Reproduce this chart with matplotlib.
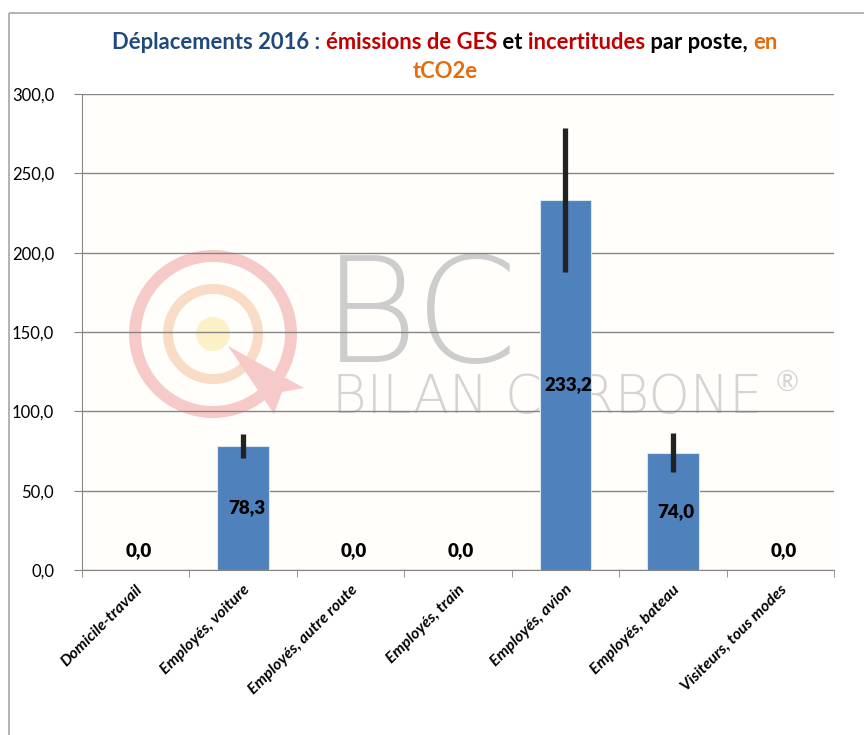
import numpy as np
import matplotlib
matplotlib.use("Agg")
import matplotlib.pyplot as plt
from matplotlib.patches import Rectangle, Circle, Wedge, Polygon
from matplotlib.offsetbox import TextArea, HPacker, VPacker, AnchoredOffsetbox

plt.rcParams['font.family'] = ['Lato', 'DejaVu Sans']

# data
categories = ["Domicile-travail", "Employés, voiture", "Employés, autre route",
              "Employés, train", "Employés, avion", "Employés, bateau",
              "Visiteurs, tous modes"]
emissions = [0.0, 78.3, 0.0, 0.0, 233.2, 74.0, 0.0]
uncertainty = [0.0, 7.6, 0.0, 0.0, 45.2, 12.2, 0.0]
yticks = [0, 50, 100, 150, 200, 250, 300]

W, H = 864, 735
fig = plt.figure(figsize=(W / 100, H / 100), dpi=100)

# background layer in pixel coords: plot area, border, watermark
bg = fig.add_axes([0, 0, 1, 1], zorder=0)
bg.set_xlim(0, W)
bg.set_ylim(H, 0)
bg.axis('off')
bg.add_patch(Rectangle((9, 13), W, H, fill=False, edgecolor='#a6a6a6', lw=1.2))
bg.add_patch(Rectangle((82, 94), 752, 476, facecolor='#fffefa', edgecolor='none'))

# rough Bilan Carbone watermark
cx, cy = 213, 334
bg.add_patch(Wedge((cx, cy), 84, 0, 360, width=12, facecolor='#f6cac8', edgecolor='none'))
bg.add_patch(Wedge((cx, cy), 50, 0, 360, width=10, facecolor='#f9dcc6', edgecolor='none'))
bg.add_patch(Circle((cx, cy), 17, facecolor='#fcf0c6', edgecolor='none'))
bg.add_patch(Polygon([[228, 346], [304, 388], [282, 392], [274, 414]],
                     closed=True, facecolor='#f6cac8', edgecolor='none'))
bg.text(322, 322, "BC", fontsize=106, color='#cdcdcd', va='center', ha='left',
        family='DejaVu Sans', fontweight='light')
bg.text(332, 398, "BILAN CARBONE", fontsize=38, color='#d4d4d4', va='center', ha='left',
        family='DejaVu Sans', fontweight='light')
bg.text(776, 384, "®", fontsize=20, color='#d4d4d4', va='center', ha='left')

ax = fig.add_axes([82 / W, 1 - 570 / H, 752 / W, 476 / H], zorder=1)
ax.set_facecolor('none')

x = np.arange(len(categories))
ax.bar(x, emissions, width=0.48, color='#4f81bd', edgecolor='#dce6f2', linewidth=0.8, zorder=3)
sel = [1, 4, 5]
ax.errorbar(x[sel], np.array(emissions)[sel], yerr=np.array(uncertainty)[sel],
            fmt='none', ecolor='#222222', elinewidth=3.8, capsize=0, zorder=4)

for xi, v in zip(x, emissions):
    ypos = v / 2 if v > 0 else 12
    ax.text(xi + 0.03, ypos, f"{v:.1f}".replace('.', ','), ha='center', va='center',
            fontsize=13.5, fontweight='heavy', color='black', zorder=5)

ax.set_xlim(-0.5, len(categories) - 0.5)
ax.set_ylim(0, 300)
ax.set_yticks(yticks)
ax.set_yticklabels([f"{t:.1f}".replace('.', ',') for t in yticks], fontsize=12)
ax.yaxis.grid(True, color='#868686', lw=1)
ax.set_axisbelow(True)
ax.tick_params(axis='y', direction='out', length=6, color='#868686', pad=14)

ax.set_xticks(x)
ax.set_xticklabels(categories, rotation=45, ha='right', rotation_mode='anchor',
                   fontsize=11.5, fontweight='bold', fontstyle='italic')
ax.tick_params(axis='x', which='major', length=0, pad=9)
ax.set_xticks(np.arange(-0.5, len(categories)), minor=True)
ax.tick_params(axis='x', which='minor', direction='out', length=5, color='#868686')

for s in ['top', 'right']:
    ax.spines[s].set_visible(False)
for s in ['left', 'bottom']:
    ax.spines[s].set_color('#868686')

# multicoloured title
tp = dict(fontsize=15.8, fontweight='bold')
line1 = HPacker(children=[
    TextArea("Déplacements 2016 : ", textprops=dict(color='#1f497d', **tp)),
    TextArea("émissions de GES", textprops=dict(color='#c00000', **tp)),
    TextArea(" et ", textprops=dict(color='black', **tp)),
    TextArea("incertitudes", textprops=dict(color='#c00000', **tp)),
    TextArea(" par poste, ", textprops=dict(color='black', **tp)),
    TextArea("en", textprops=dict(color='#e46c0a', **tp)),
], align='baseline', pad=0, sep=0)
line2 = TextArea("tCO2e", textprops=dict(color='#e46c0a', **tp))
title = VPacker(children=[line1, line2], align='center', pad=0, sep=6)
anch = AnchoredOffsetbox(loc='upper center', child=title, frameon=False,
                         bbox_to_anchor=(445 / W, 1 - 32 / H), bbox_transform=fig.transFigure,
                         borderpad=0, pad=0)
fig.add_artist(anch)

fig.savefig("out.png", dpi=100, facecolor='white')
